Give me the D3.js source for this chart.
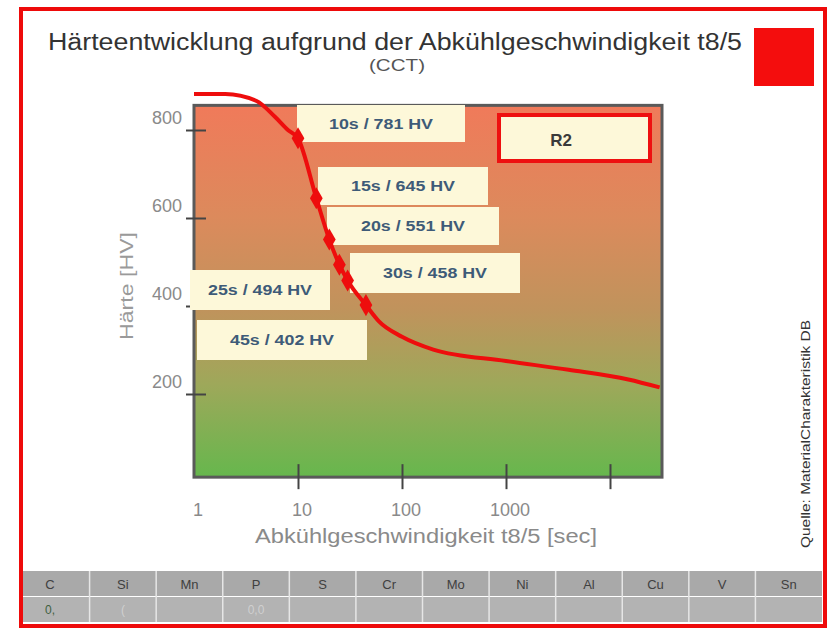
<!DOCTYPE html>
<html>
<head>
<meta charset="utf-8">
<script src="https://cdn.jsdelivr.net/npm/d3@7"></script>
<style>
  html, body { margin: 0; padding: 0; background: #ffffff; }
  svg { display: block; font-family: "Liberation Sans", Arial, sans-serif; }
</style>
</head>
<body>
<svg id="chart" width="829" height="629"></svg>
<script>
// Hardness curve (CCT) over cooling time t8/5
const curveTime = [1, 2, 4, 6, 8, 10, 15, 20, 25, 30, 45, 60, 100, 200, 1000, 4000, 15000, 30000];
const curveHardness = [882, 882, 866, 830, 800, 781, 645, 551, 494, 458, 402, 365, 330, 301, 275, 255, 233, 215];

// Marked points with their labels
const pointTime = [10, 15, 20, 30, 25, 45];
const pointHardness = [781, 645, 551, 458, 494, 402];

// Axis ticks
const yTicks = [200, 400, 600, 800];
const xTicks = [1, 10, 100, 1000, 10000];
const xTickLabels = ["1", "10", "100", "1000", ""];

// Chemical composition table
const elements = ["C", "Si", "Mn", "P", "S", "Cr", "Mo", "Ni", "Al", "Cu", "V", "Sn"];
const elementValues = ["0,", "(", "", "0,0", "", "", "", "", "", "", "", ""];

// Label box placement (left, top, width, height) for each marked point
const labelBoxes = [
  [297, 105, 168, 37],
  [318, 167, 170, 38],
  [327, 207, 172, 38],
  [350, 253, 170, 40],
  [190, 270, 140, 40],
  [197, 320, 170, 40]
];

const svg = d3.select("#chart");

// Outer frame
svg.append("rect")
  .attr("x", 21).attr("y", 9).attr("width", 804).attr("height", 617)
  .attr("fill", "#ffffff").attr("stroke", "#ee0a0a").attr("stroke-width", 4);

// Title
svg.append("text").attr("x", 395).attr("y", 50).attr("text-anchor", "middle")
  .attr("font-size", 23).attr("fill", "#333")
  .attr("textLength", 694).attr("lengthAdjust", "spacingAndGlyphs")
  .text("Härteentwicklung aufgrund der Abkühlgeschwindigkeit t8/5");
svg.append("text").attr("x", 397).attr("y", 71).attr("text-anchor", "middle")
  .attr("font-size", 17).attr("fill", "#555")
  .attr("textLength", 56).attr("lengthAdjust", "spacingAndGlyphs").text("(CCT)");

// Logo block
svg.append("rect").attr("x", 754).attr("y", 28).attr("width", 60).attr("height", 58).attr("fill", "#f40d0d");

// Scales
const x = d3.scaleLog().domain([1, Math.pow(10, 4.5)]).range([194, 662]);
const y = d3.scaleLinear().domain([0, 800]).range([482, 130]);
const yTop = 856, yBottom = 11;

// Plot background gradient
const defs = svg.append("defs");
const grad = defs.append("linearGradient").attr("id", "bg").attr("x1", 0).attr("y1", 0).attr("x2", 0).attr("y2", 1);
[["0%", "#f07a5a"], ["30%", "#dc8a5c"], ["55%", "#c0935c"], ["75%", "#9ea85a"], ["100%", "#66b74d"]]
  .forEach(([o, c]) => grad.append("stop").attr("offset", o).attr("stop-color", c));

svg.append("rect")
  .attr("x", x(1)).attr("y", y(yTop))
  .attr("width", x.range()[1] - x(1)).attr("height", y(yBottom) - y(yTop))
  .attr("fill", "url(#bg)").attr("stroke", "#5a5a5a").attr("stroke-width", 3);

// Y axis
const yAxis = svg.append("g").attr("transform", `translate(${x(1)},0)`)
  .call(d3.axisLeft(y).tickValues(yTicks).tickSizeInner(8).tickSizeOuter(0).tickPadding(4));
yAxis.select(".domain").remove();
yAxis.selectAll(".tick line").attr("x1", -8).attr("x2", 12).attr("stroke", "#444").attr("stroke-width", 2);
yAxis.selectAll(".tick text").attr("dy", "-0.35em").attr("font-size", 18).attr("fill", "#8a8a8a")
  .attr("font-family", "Liberation Sans, Arial, sans-serif");

// X axis
const xAxis = svg.append("g").attr("transform", `translate(0,${y(yBottom)})`)
  .call(d3.axisBottom(x).tickValues(xTicks).tickFormat((d, i) => xTickLabels[i]).tickSizeInner(12).tickSizeOuter(0).tickPadding(14));
xAxis.select(".domain").remove();
xAxis.selectAll(".tick line").attr("y1", -13).attr("y2", 12).attr("stroke", "#444").attr("stroke-width", 2)
  .filter(d => d === 1).remove();
xAxis.selectAll(".tick text").attr("dx", "0.2em").attr("font-size", 18).attr("fill", "#8a8a8a")
  .attr("font-family", "Liberation Sans, Arial, sans-serif");

// Axis titles
svg.append("text").attr("x", 426).attr("y", 543).attr("text-anchor", "middle")
  .attr("font-size", 20).attr("fill", "#8a8a8a")
  .attr("textLength", 342).attr("lengthAdjust", "spacingAndGlyphs")
  .text("Abkühlgeschwindigkeit t8/5 [sec]");
svg.append("text").attr("transform", "translate(133,286) rotate(-90)").attr("text-anchor", "middle")
  .attr("font-size", 19).attr("fill", "#9a9a9a")
  .attr("textLength", 108).attr("lengthAdjust", "spacingAndGlyphs").text("Härte [HV]");

// Label boxes
const labels = svg.append("g");
pointTime.forEach((t, i) => {
  const [bx, by, bw, bh] = labelBoxes[i];
  labels.append("rect").attr("x", bx).attr("y", by).attr("width", bw).attr("height", bh).attr("fill", "#fdf8d9");
  labels.append("text").attr("x", bx + bw / 2).attr("y", by + bh / 2 + 5).attr("text-anchor", "middle")
    .attr("font-size", 14).attr("font-weight", "bold").attr("fill", "#3e5b78")
    .attr("textLength", 104).attr("lengthAdjust", "spacingAndGlyphs")
    .text(`${t}s / ${pointHardness[i]} HV`);
});

// R2 box
svg.append("rect").attr("x", 499).attr("y", 115).attr("width", 151).attr("height", 46)
  .attr("fill", "#fdf8d9").attr("stroke", "#ee1010").attr("stroke-width", 4);
svg.append("text").attr("x", 561).attr("y", 146).attr("text-anchor", "middle")
  .attr("font-size", 17).attr("font-weight", "bold").attr("fill", "#3a3a3a").text("R2");

// Hardness curve
const line = d3.line().x((d, i) => x(curveTime[i])).y(d => y(d)).curve(d3.curveMonotoneX);
svg.append("path").datum(curveHardness).attr("d", line)
  .attr("fill", "none").attr("stroke", "#ee0d0d").attr("stroke-width", 4);

// Point markers
svg.append("g").selectAll("path").data(pointTime).join("path")
  .attr("transform", (t, i) => `translate(${x(t)},${y(pointHardness[i])})`)
  .attr("d", d3.symbol(d3.symbolDiamond, 140))
  .attr("fill", "#ee0d0d");

// Source note
svg.append("text").attr("transform", "translate(810,434) rotate(-90)").attr("text-anchor", "middle")
  .attr("font-size", 13).attr("fill", "#333")
  .attr("textLength", 228).attr("lengthAdjust", "spacingAndGlyphs")
  .text("Quelle: MaterialCharakteristik DB");

// Composition table
const tx0 = 23, tx1 = 822, colW = (tx1 - tx0) / elements.length;
const table = svg.append("g");
table.append("rect").attr("x", tx0).attr("y", 571).attr("width", tx1 - tx0).attr("height", 25).attr("fill", "#a9a9a9");
table.append("rect").attr("x", tx0).attr("y", 597).attr("width", tx1 - tx0).attr("height", 25).attr("fill", "#b3b3b3");
elements.forEach((el, i) => {
  if (i > 0) {
    table.append("line").attr("x1", tx0 + i * colW).attr("x2", tx0 + i * colW).attr("y1", 571).attr("y2", 622)
      .attr("stroke", "#e6e6e6").attr("stroke-width", 1.5);
  }
  const cx = i === 0 ? 50 : tx0 + i * colW + colW / 2;
  table.append("text").attr("x", cx).attr("y", 589).attr("text-anchor", "middle")
    .attr("font-size", 13).attr("fill", "#404040").text(el);
  table.append("text").attr("x", cx).attr("y", 614).attr("text-anchor", "middle")
    .attr("font-size", 12).attr("fill", i === 0 ? "#3f5f3f" : "#d0d0d0").text(elementValues[i]);
});
</script>
</body>
</html>
